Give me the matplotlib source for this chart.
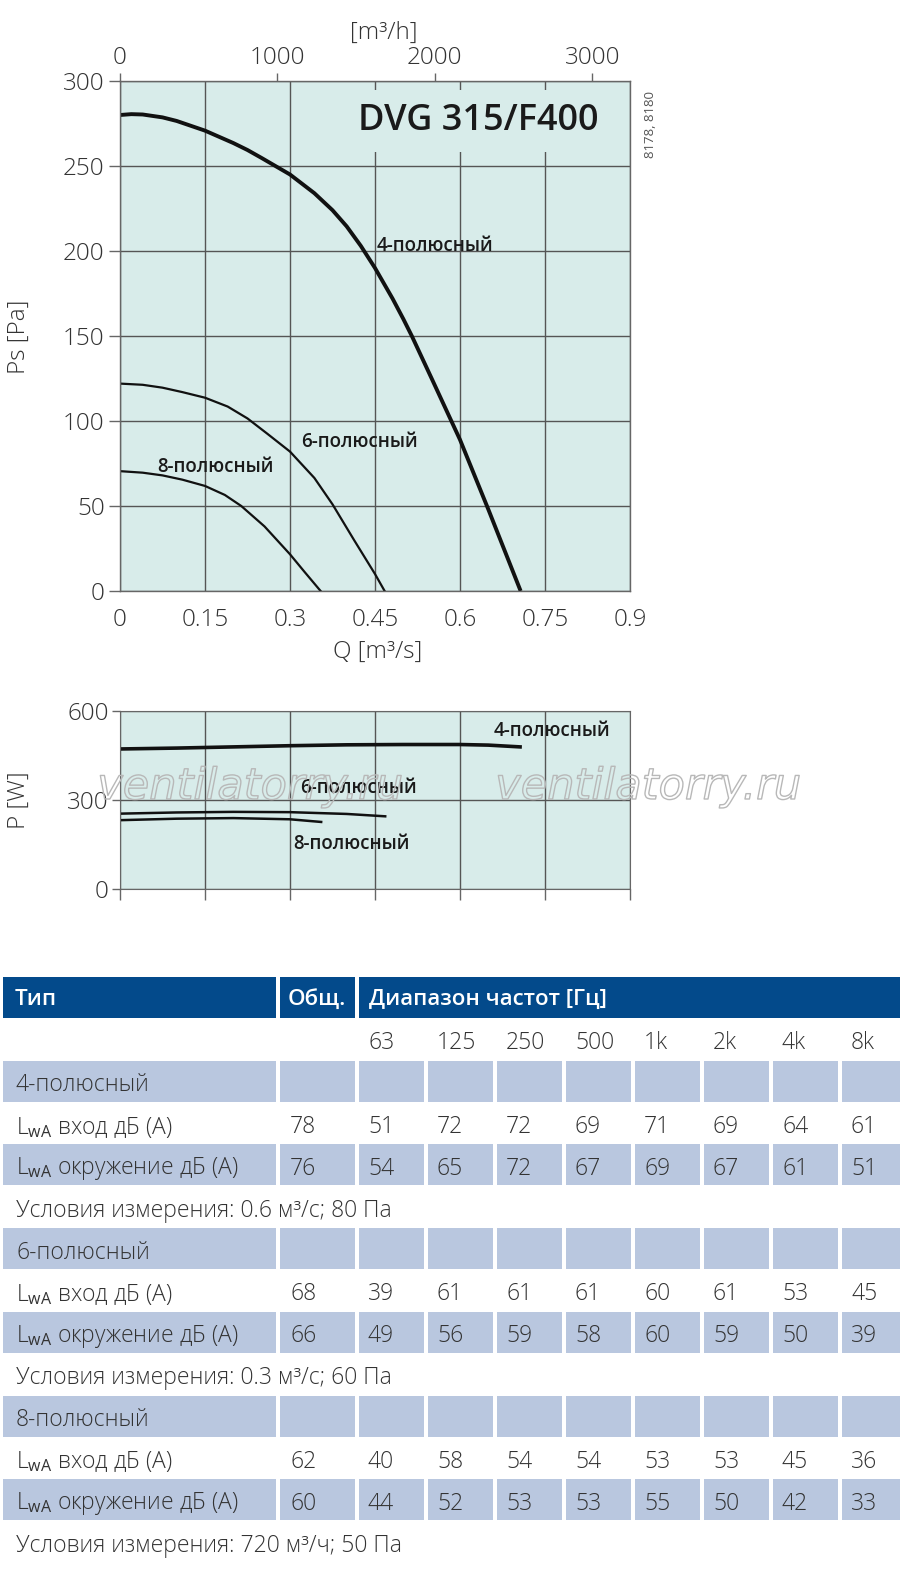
import numpy as np
import matplotlib
matplotlib.use("Agg")
import matplotlib.pyplot as plt
from matplotlib.patches import Rectangle
import matplotlib.patheffects as pe

plt.rcParams['font.family'] = ['Open Sans', 'DejaVu Sans']
plt.rcParams['mathtext.fontset'] = 'custom'
plt.rcParams['mathtext.rm'] = 'Open Sans'
plt.rcParams['mathtext.it'] = 'Open Sans:italic'
plt.rcParams['mathtext.bf'] = 'Open Sans:bold'

# ---------------- data ----------------
q_ticks = [0, 0.15, 0.3, 0.45, 0.6, 0.75, 0.9]
q_tick_labels = ['0', '0.15', '0.3', '0.45', '0.6', '0.75', '0.9']
ps_ticks = [0, 50, 100, 150, 200, 250, 300]
h_ticks = [0, 1000, 2000, 3000]
p_ticks = [0, 300, 600]

q4 = [0, 0.02, 0.04, 0.075, 0.1, 0.15, 0.2, 0.225, 0.25, 0.3, 0.343, 0.375, 0.4, 0.425,
      0.45, 0.481, 0.5, 0.515, 0.55, 0.6, 0.65, 0.707]
ps4 = [280, 280.5, 280.3, 278.6, 276.5, 270.8, 263.5, 259.4, 254.7, 245, 234, 224, 214.5, 203,
       190, 172, 160, 150, 125, 89, 48, 0]
q6 = [0, 0.04, 0.075, 0.11, 0.15, 0.19, 0.225, 0.26, 0.3, 0.343, 0.375, 0.413, 0.45, 0.467]
ps6 = [122, 121.3, 119.6, 117, 113.7, 108.5, 101.5, 92.5, 82, 66.5, 51, 30, 10, 0]
q8 = [0, 0.04, 0.075, 0.11, 0.15, 0.185, 0.214, 0.255, 0.3, 0.325, 0.354]
ps8 = [70.5, 69.6, 68, 65.5, 61.8, 56.5, 50, 38, 21.6, 11.5, 0]

pq4 = [0, 0.1, 0.2, 0.3, 0.4, 0.5, 0.6, 0.65, 0.706]
pw4 = [472, 475, 479, 483, 486, 487, 487, 485, 479]
pq6 = [0, 0.1, 0.2, 0.3, 0.4, 0.468]
pw6 = [254, 258, 260, 259, 253, 245]
pq8 = [0, 0.1, 0.2, 0.3, 0.355]
pw8 = [232, 237, 239, 235, 226]

curve_names = ['4-полюсный', '6-полюсный', '8-полюсный']

freqs = ['63', '125', '250', '500', '1k', '2k', '4k', '8k']
inlet_total = [78, 68, 62]
inlet_bands = [[51, 72, 72, 69, 71, 69, 64, 61],
               [39, 61, 61, 61, 60, 61, 53, 45],
               [40, 58, 54, 54, 53, 53, 45, 36]]
surround_total = [76, 66, 60]
surround_bands = [[54, 65, 72, 67, 69, 67, 61, 51],
                  [49, 56, 59, 58, 60, 59, 50, 39],
                  [44, 52, 53, 53, 55, 50, 42, 33]]
conditions = ['Условия измерения: 0.6 м³/с; 80 Па',
              'Условия измерения: 0.3 м³/с; 60 Па',
              'Условия измерения: 720 м³/ч; 50 Па']

# ---------------- style ----------------
W, H = 900, 1570
panel = '#d8ecea'
gridc = '#555555'
txt = '#333333'
hdr = '#034a8b'
shade = '#b9c7df'
TICK = 17.5

fig = plt.figure(figsize=(9, 15.7), dpi=100)

def fx(x):
    return x / W

def fy(y):
    return 1 - y / H

# ---------------- Ps chart ----------------
ax = fig.add_axes([fx(120), fy(591), 510 / W, 510 / H])
ax.set_facecolor(panel)
ax.set_xlim(0, 0.9)
ax.set_ylim(0, 300)
ax.set_xticks(q_ticks)
ax.set_xticklabels(q_tick_labels)
ax.set_yticks(ps_ticks)
ax.grid(True, color=gridc, lw=1.0)
ax.set_axisbelow(True)
for s in ax.spines.values():
    s.set_color('#666666')
    s.set_linewidth(1.0)
ax.tick_params(axis='x', length=0, pad=12, labelsize=TICK, labelcolor=txt)
ax.tick_params(axis='y', length=8, width=1, color='#666666', pad=3, labelsize=TICK, labelcolor=txt)
for lab in ax.get_xticklabels() + ax.get_yticklabels():
    lab.set_fontweight('light')

ax.plot(q4, ps4, color='#111111', lw=2.8, solid_capstyle='butt', solid_joinstyle='round')
ax.plot(q6, ps6, color='#111111', lw=1.6, solid_joinstyle='round')
ax.plot(q8, ps8, color='#111111', lw=1.6, solid_joinstyle='round')

sec = ax.secondary_xaxis('top', functions=(lambda q: np.asarray(q) * 3600.0,
                                            lambda h: np.asarray(h) / 3600.0))
sec.set_xticks(h_ticks)
sec.tick_params(length=6, width=1, color='#666666', pad=2, labelsize=TICK, labelcolor=txt)
for lab in sec.get_xticklabels():
    lab.set_fontweight('light')
sec.spines['top'].set_visible(False)

fig.text(fx(384), fy(33), '[m³/h]', ha='center', va='center', fontsize=TICK, color=txt, fontweight='light')
fig.text(fx(378), fy(652), 'Q [m³/s]', ha='center', va='center', fontsize=TICK, color=txt, fontweight='light')
fig.text(fx(19), fy(337), 'Ps [Pa]', ha='center', va='center', rotation=90, fontsize=TICK, color=txt,
         fontweight='light')

ax.text(0.845, 276.5, 'DVG 315/F400', ha='right', va='center', fontsize=26, fontweight='semibold',
        color='#1a1a1a', bbox=dict(boxstyle='square,pad=0.35', fc=panel, ec='none'))
fig.text(fx(650), fy(124), '8178, 8180', rotation=90, ha='center', va='center', fontsize=9.5, color='#555555')

LBL = 13.5
ax.text(0.452, 202.7, curve_names[0], fontsize=LBL, fontweight='semibold', color='#1a1a1a', va='center')
ax.text(0.320, 87.7, curve_names[1], fontsize=LBL, fontweight='semibold', color='#1a1a1a', va='center')
ax.text(0.065, 72.7, curve_names[2], fontsize=LBL, fontweight='semibold', color='#1a1a1a', va='center')

# ---------------- Power chart ----------------
ax2 = fig.add_axes([fx(120), fy(889), 510 / W, 178 / H])
ax2.set_facecolor(panel)
ax2.set_xlim(0, 0.9)
ax2.set_ylim(0, 600)
ax2.set_xticks(q_ticks)
ax2.set_xticklabels([])
ax2.set_yticks(p_ticks)
ax2.grid(True, color=gridc, lw=1.0)
ax2.set_axisbelow(True)
for s in ax2.spines.values():
    s.set_color('#666666')
ax2.tick_params(axis='x', length=8, width=1, color='#666666')
ax2.tick_params(axis='y', length=6, width=1, color='#666666', pad=2, labelsize=TICK, labelcolor=txt)
for lab in ax2.get_yticklabels():
    lab.set_fontweight('light')
ax2.plot(pq4, pw4, color='#111111', lw=2.6, solid_joinstyle='round')
ax2.plot(pq6, pw6, color='#111111', lw=1.8, solid_joinstyle='round')
ax2.plot(pq8, pw8, color='#111111', lw=1.8, solid_joinstyle='round')
fig.text(fx(19), fy(800), 'P [W]', ha='center', va='center', rotation=90, fontsize=TICK, color=txt,
         fontweight='light')

ax2.text(0.660, 531, curve_names[0], fontsize=LBL, fontweight='semibold', color='#1a1a1a', va='center')
ax2.text(0.318, 342, curve_names[1], fontsize=LBL, fontweight='semibold', color='#1a1a1a', va='center')
ax2.text(0.306, 151, curve_names[2], fontsize=LBL, fontweight='semibold', color='#1a1a1a', va='center')

# ---------------- Table + watermark (pixel coordinates) ----------------
at = fig.add_axes([0, 0, 1, 1])
at.set_xlim(0, W)
at.set_ylim(H, 0)
at.axis('off')
at.patch.set_alpha(0)

for xw in (250, 648):
    at.text(xw, 787, 'ventilatorry.ru', ha='center', va='center', fontsize=31, style='italic',
            family=['Liberation Sans Narrow', 'DejaVu Sans'], color='none',
            path_effects=[pe.withStroke(linewidth=1.0, foreground='#b8b8b8')])

row_top0 = 977.0
pitch = 41.85
rh = 41.0
col0 = (3, 276)
col1 = (280, 355)
fstart = 359
fpitch = 69
fwidth = 65
TBL = 16.5

def row_y(i):
    return row_top0 + pitch * i

# header
for (x0, x1) in (col0, col1, (359, 900)):
    at.add_patch(Rectangle((x0, row_y(0)), x1 - x0, rh, fc=hdr, ec='none'))
yc = row_y(0) + rh / 2 + 2
at.text(15, yc, 'Тип', color='white', fontsize=16, fontweight='semibold', va='center')
at.text(288, yc, 'Общ.', color='white', fontsize=16, fontweight='semibold', va='center')
at.text(369, yc, 'Диапазон частот [Гц]', color='white', fontsize=16, fontweight='semibold', va='center')

def shade_row(i):
    y = row_y(i)
    at.add_patch(Rectangle((col0[0], y), col0[1] - col0[0], rh, fc=shade, ec='none'))
    at.add_patch(Rectangle((col1[0], y), col1[1] - col1[0], rh, fc=shade, ec='none'))
    for k in range(len(freqs)):
        x0 = fstart + fpitch * k
        at.add_patch(Rectangle((x0, y), min(fwidth, W - x0), rh, fc=shade, ec='none'))

def put(i, x, s):
    at.text(x, row_y(i) + rh / 2 + 4, s, fontsize=TBL, color=txt, va='center', fontweight='light')

# frequency labels row
for k, f in enumerate(freqs):
    put(1, fstart + fpitch * k + 9, f)

for t in range(3):
    base = 2 + 4 * t
    shade_row(base)
    shade_row(base + 2)
    put(base, 16, curve_names[t])
    put(base + 1, 16, r'L$_{\mathrm{wA}}$ вход дБ (А)')
    put(base + 1, 290, str(inlet_total[t]))
    for k, v in enumerate(inlet_bands[t]):
        put(base + 1, fstart + fpitch * k + 9, str(v))
    put(base + 2, 16, r'L$_{\mathrm{wA}}$ окружение дБ (А)')
    put(base + 2, 290, str(surround_total[t]))
    for k, v in enumerate(surround_bands[t]):
        put(base + 2, fstart + fpitch * k + 9, str(v))
    put(base + 3, 16, conditions[t])

fig.savefig('out.png', dpi=100)
